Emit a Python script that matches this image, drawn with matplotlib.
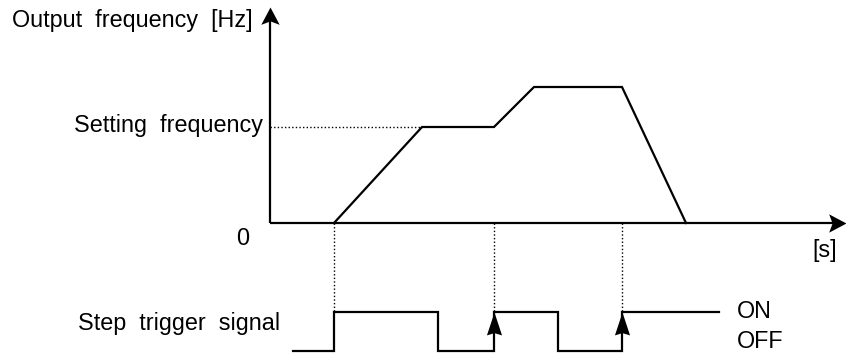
import matplotlib
matplotlib.use("Agg")
import matplotlib.pyplot as plt
from matplotlib.path import Path

# ---- data (time in arbitrary units, frequency in Hz-like units) ----
freq_t = [8, 19, 28, 33, 44, 52]
freq_f = [0, 60, 60, 85, 85, 0]
setting_freq = 60
trigger_times = [8, 28, 44]          # rising edges that trigger steps
signal_edges = [2.9, 8, 21, 28, 36, 44, 56.1]
signal_states = [0, 1, 0, 1, 0, 1]
ON_LEVEL, OFF_LEVEL = -55.4, -80.0
Y_AXIS_TOP = 135
X_AXIS_END = 72

plt.rcParams['font.family'] = ['Liberation Sans', 'DejaVu Sans']

fig = plt.figure(figsize=(8.46, 3.55), dpi=100)
ax = fig.add_axes([0, 0, 1, 1])
ax.set_xlim(-33.75, 72)
ax.set_ylim(-82.5, 139.375)
ax.axis('off')

LW = 1.6
FS = 16.8

# arrow head marker paths
def head(halfw, notch):
    verts = [(0, 0), (-halfw, -1), (0, -notch), (halfw, -1), (0, 0)]
    codes = [Path.MOVETO, Path.LINETO, Path.LINETO, Path.LINETO, Path.CLOSEPOLY]
    return Path(verts, codes)

def head_right(halfw, notch):
    verts = [(0, 0), (-1, halfw), (-notch, 0), (-1, -halfw), (0, 0)]
    codes = [Path.MOVETO, Path.LINETO, Path.LINETO, Path.LINETO, Path.CLOSEPOLY]
    return Path(verts, codes)

# axes lines
ax.plot([0, 0], [0, Y_AXIS_TOP - 3], color='black', lw=LW, solid_capstyle='butt')
ax.plot([0, X_AXIS_END - 1], [0, 0], color='black', lw=LW, solid_capstyle='butt')
ax.plot([0], [Y_AXIS_TOP], marker=head(0.53, 0.8), markersize=25, color='black', mew=0)
ax.plot([X_AXIS_END - 0.05], [0], marker=head_right(0.53, 0.8), markersize=25, color='black', mew=0)

# frequency profile
ax.plot(freq_t, freq_f, color='black', lw=LW, solid_joinstyle='miter')

# dotted guides
dot = dict(color='black', lw=1.0, linestyle=(0, (1, 1.6)))
ax.plot([0, freq_t[1]], [setting_freq, setting_freq], **dot)
for t in trigger_times:
    ax.plot([t, t], [0, ON_LEVEL], **dot)

# step trigger signal
sx, sy = [], []
for i, s in enumerate(signal_states):
    lvl = ON_LEVEL if s else OFF_LEVEL
    sx += [signal_edges[i], signal_edges[i + 1]]
    sy += [lvl, lvl]
ax.plot(sx, sy, color='black', lw=LW, solid_joinstyle='miter')

# trigger arrows on 2nd and 3rd rising edges
for t in trigger_times[1:]:
    ax.plot([t], [ON_LEVEL - 0.4], marker=head(0.33, 0.9), markersize=33, color='black', mew=0)

# texts
ax.text(-32.25, 122.5, 'Output  frequency  [Hz]', fontsize=FS, va='baseline', ha='left')
ax.text(-0.9, setting_freq - 3.1, 'Setting  frequency', fontsize=FS, va='baseline', ha='right')
ax.text(-3.4, -13.7, '0', fontsize=FS, va='baseline', ha='center')
ax.text(70.9, -21.2, '[s]', fontsize=FS, va='baseline', ha='right')
ax.text(-24, -66.9, 'Step  trigger  signal', fontsize=FS, va='baseline', ha='left')
ax.text(58.4, -59.4, 'ON', fontsize=FS, va='baseline', ha='left')
ax.text(58.4, -78.1, 'OFF', fontsize=FS, va='baseline', ha='left')

fig.savefig('out.png', dpi=100)
